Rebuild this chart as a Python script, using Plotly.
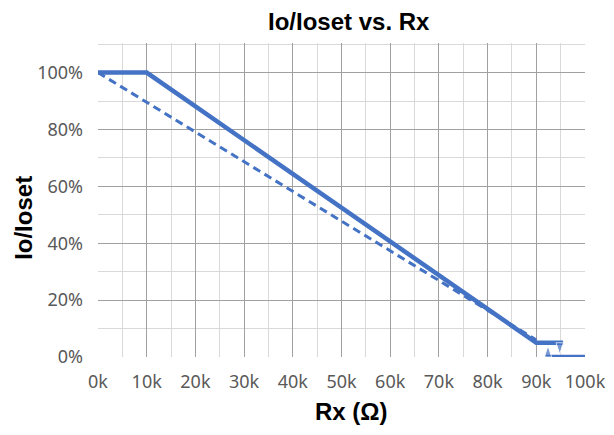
"""
Io/Ioset vs. Rx chart with hysteresis step near 90k.
"""
import plotly.graph_objects as go

BLUE = "#4472C4"
TITLE_FONT = dict(family="Liberation Sans, Arial", size=24, color="#000")

# Rx in kOhm, Io/Ioset as fraction
actual_rx = [0, 10, 90, 95.5]
actual_io = [1.0, 1.0, 0.05, 0.05]

ideal_rx = [0, 90]
ideal_io = [1.0, 0.06]

off_rx = [92, 100]
off_io = [0.0, 0.0]

# hysteresis arrows
arrow_up_rx = [92.4, 92.4]
arrow_up_io = [0.0, 0.04]
arrow_down_rx = [94.8, 94.8]
arrow_down_io = [0.05, 0.01]

x_ticks = list(range(0, 101, 10))
x_labels = [f"{v}k" for v in x_ticks]
y_ticks = [0, 0.2, 0.4, 0.6, 0.8, 1.0]
y_labels = ["0%", "20%", "40%", "60%", "80%", "100%"]
y_minor = [0.1, 0.3, 0.5, 0.7, 0.9, 1.1]

fig = go.Figure()

fig.add_trace(go.Scatter(x=ideal_rx, y=ideal_io, mode="lines",
                         line=dict(color=BLUE, width=3, dash="8px,5px")))
fig.add_trace(go.Scatter(x=actual_rx, y=actual_io, mode="lines",
                         line=dict(color=BLUE, width=4.5)))
fig.add_trace(go.Scatter(x=off_rx, y=off_io, mode="lines",
                         line=dict(color=BLUE, width=4.5)))
for xs, ys in [(arrow_up_rx, arrow_up_io), (arrow_down_rx, arrow_down_io)]:
    fig.add_trace(go.Scatter(
        x=xs, y=ys, mode="lines+markers",
        line=dict(color=BLUE, width=3),
        marker=dict(symbol="arrow", angleref="previous", size=[0, 12], color=BLUE),
    ))

fig.update_layout(
    width=614,
    height=435,
    margin=dict(l=90, r=37, t=35, b=86),
    paper_bgcolor="white",
    plot_bgcolor="white",
    showlegend=False,
    font=dict(family="Noto Sans, Liberation Sans, Arial", color="#595959"),
)

fig.add_annotation(text="<b>Io/Ioset vs. Rx</b>", xref="paper", yref="paper",
                   x=0.515, y=1.07, showarrow=False, font=TITLE_FONT,
                   xanchor="center", yanchor="middle")
fig.add_annotation(text="<b>Rx (Ω)</b>", xref="paper", yref="paper",
                   x=0.52, y=-0.175, showarrow=False, font=TITLE_FONT,
                   xanchor="center", yanchor="middle")
fig.add_annotation(text="<b>Io/Ioset</b>", xref="paper", yref="paper",
                   x=-0.152, y=0.443, showarrow=False, font=TITLE_FONT,
                   textangle=-90, xanchor="center", yanchor="middle")

fig.update_xaxes(
    range=[0, 100], tickvals=x_ticks, ticktext=x_labels,
    tickfont=dict(size=18), ticks="", ticklabelstandoff=12,
    showgrid=True, gridcolor="#a0a0a0", gridwidth=1.3,
    minor=dict(dtick=5, tick0=0, showgrid=True, gridcolor="#d9d9d9", gridwidth=1),
    zeroline=False, showline=False,
)
fig.update_yaxes(
    range=[0, 1.104], tickvals=y_ticks, ticktext=y_labels,
    tickfont=dict(size=18), ticks="", ticklabelstandoff=14,
    showgrid=True, gridcolor="#a0a0a0", gridwidth=1.3,
    minor=dict(tickvals=y_minor, showgrid=True, gridcolor="#d9d9d9", gridwidth=1),
    zeroline=False, showline=False,
)

fig.write_html("out.html")
